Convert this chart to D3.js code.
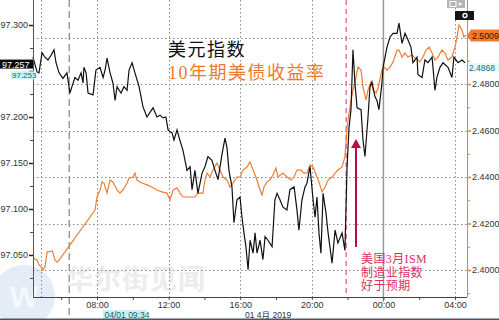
<!DOCTYPE html>
<html><head><meta charset="utf-8">
<script src="https://cdn.jsdelivr.net/npm/d3@7"></script>
<style>
html,body{margin:0;padding:0;background:#fff;}
svg{display:block;}
</style></head>
<body>
<svg id="chart" width="499" height="320"></svg>
<script>
// ---- data (hours since 2019-04-01 00:00 Beijing time) ----
const dxyHours = [4.42,4.65,4.76,4.93,5.09,5.26,5.43,5.60,5.71,5.88,6.10,6.32,6.49,6.60,6.77,6.94,7.11,7.22,7.27,7.39,7.50,7.78,7.94,8.17,8.34,8.45,8.56,8.73,8.89,9.01,9.12,9.34,9.51,9.68,9.79,9.96,10.12,10.35,10.57,10.79,10.96,11.13,11.35,11.52,11.69,11.85,11.97,12.08,12.19,12.30,12.47,12.58,12.80,13.03,13.20,13.31,13.47,13.64,13.87,14.03,14.20,14.42,14.59,14.76,14.98,15.15,15.26,15.37,15.54,15.65,15.82,15.99,16.10,16.21,16.32,16.44,16.55,16.72,16.83,16.94,17.11,17.27,17.39,17.55,17.78,17.94,18.06,18.22,18.39,18.61,18.78,19.01,19.17,19.28,19.45,19.62,19.73,19.90,20.07,20.18,20.29,20.40,20.51,20.63,20.79,20.91,21.13,21.30,21.46,21.69,21.85,21.97,22.08,22.19,22.30,22.41,22.53,22.75,22.86,22.97,23.14,23.25,23.36,23.53,23.64,23.75,23.92,23.98,24.20,24.37,24.54,24.76,24.87,25.04,25.21,25.37,25.54,25.65,25.88,25.93,26.16,26.32,26.49,26.72,26.88,26.99,27.16,27.33,27.61,27.83,27.94,28.17,28.39,28.56];
const dxyValues = [97.265,97.249,97.248,97.270,97.265,97.262,97.267,97.273,97.259,97.248,97.242,97.248,97.226,97.233,97.243,97.240,97.248,97.237,97.254,97.248,97.226,97.224,97.251,97.254,97.243,97.251,97.264,97.248,97.237,97.218,97.233,97.226,97.233,97.229,97.251,97.259,97.248,97.233,97.211,97.200,97.205,97.210,97.200,97.202,97.199,97.200,97.186,97.184,97.183,97.175,97.186,97.178,97.164,97.142,97.146,97.121,97.142,97.117,97.139,97.146,97.157,97.153,97.142,97.132,97.159,97.177,97.167,97.142,97.124,97.085,97.110,97.113,97.091,97.074,97.059,97.034,97.066,97.052,97.074,97.052,97.066,97.045,97.070,97.066,97.059,97.110,97.117,97.110,97.102,97.099,97.121,97.124,97.099,97.077,97.110,97.124,97.128,97.146,97.110,97.091,97.113,97.074,97.052,97.117,97.096,97.074,97.041,97.077,97.063,97.074,97.055,97.146,97.189,97.208,97.273,97.237,97.210,97.208,97.175,97.157,97.200,97.233,97.238,97.222,97.218,97.208,97.237,97.254,97.276,97.287,97.291,97.291,97.302,97.280,97.291,97.284,97.276,97.259,97.265,97.246,97.243,97.262,97.259,97.265,97.229,97.243,97.254,97.259,97.254,97.243,97.265,97.259,97.262,97.259];

const yieldHours = [4.42,4.65,4.76,4.93,4.98,5.09,5.21,5.49,5.54,5.65,5.77,5.88,7.89,8.00,8.17,8.28,8.39,8.56,8.73,8.89,9.12,9.28,9.45,9.68,9.79,10.01,10.12,10.23,10.51,10.79,11.07,11.35,11.63,11.91,12.08,12.25,12.47,12.64,12.80,13.20,13.47,13.64,13.92,14.03,14.15,14.31,14.48,14.70,14.87,15.04,15.26,15.43,15.60,15.82,15.99,16.16,16.38,16.55,16.72,16.94,17.05,17.22,17.33,17.50,17.66,17.83,18.00,18.11,18.39,18.61,18.84,19.01,19.17,19.40,19.56,19.73,19.90,20.07,20.29,20.40,20.57,20.74,20.91,21.13,21.30,21.46,21.69,21.85,21.97,22.13,22.30,22.41,22.58,22.75,22.86,23.03,23.14,23.31,23.42,23.59,23.70,23.92,24.03,24.20,24.37,24.54,24.76,24.87,25.04,25.21,25.37,25.60,25.77,25.93,26.04,26.21,26.38,26.55,26.72,26.88,27.05,27.27,27.44,27.61,27.83,28.00,28.11,28.22,28.39,28.50,28.62];
const yieldValues = [2.4052,2.4043,2.4022,2.4009,2.4000,2.4013,2.4077,2.4082,2.4073,2.4043,2.4034,2.4043,2.4258,2.4314,2.4344,2.4379,2.4374,2.4331,2.4387,2.4379,2.4344,2.4331,2.4344,2.4374,2.4396,2.4400,2.4417,2.4387,2.4374,2.4366,2.4357,2.4344,2.4336,2.4331,2.4301,2.4344,2.4353,2.4331,2.4314,2.4314,2.4314,2.4331,2.4331,2.4387,2.4417,2.4400,2.4430,2.4460,2.4430,2.4400,2.4387,2.4357,2.4374,2.4400,2.4400,2.4430,2.4443,2.4465,2.4430,2.4387,2.4357,2.4323,2.4357,2.4379,2.4387,2.4409,2.4439,2.4400,2.4417,2.4400,2.4387,2.4400,2.4430,2.4430,2.4417,2.4417,2.4452,2.4443,2.4400,2.4379,2.4336,2.4357,2.4387,2.4400,2.4417,2.4430,2.4443,2.4486,2.4615,2.4700,2.4774,2.4804,2.4873,2.4860,2.4787,2.4731,2.4774,2.4809,2.4774,2.4761,2.4783,2.4860,2.4873,2.4860,2.4873,2.4895,2.4946,2.4946,2.4916,2.4933,2.4916,2.4925,2.4912,2.4903,2.4895,2.4916,2.4946,2.4959,2.4933,2.4903,2.4916,2.4946,2.4933,2.4903,2.4916,2.4959,2.5002,2.5054,2.5032,2.5002,2.5011];

const xTickHours = [8,12,16,20,24,28];
const xTickLabels = ["08:00","12:00","16:00","20:00","00:00","04:00"];
const xMinorHours = [6,10,14,18,22,26];
const leftTicks = [97.05,97.10,97.15,97.20,97.25,97.30];
const leftLabelled = [97.05,97.10,97.15,97.20,97.30];   // 97.250 is hidden behind the last-value box
const leftMinor = [97.025,97.075,97.125,97.175,97.225,97.275];
const rightTicks = [2.40,2.42,2.44,2.46,2.48,2.50];
const rightLabelled = [2.40,2.42,2.44,2.46,2.48];        // 2.5000 is hidden behind the last-value box
const rightMinor = [2.39,2.41,2.43,2.45,2.47,2.49,2.51];
const vGridHours = [4.88,8,12,16,20,28];
const sessionLineHour = 6.45;
const dayLineHour = 24;
const releaseHour = 21.92;
const titleDxy = "美元指数";
const titleYield = "10年期美债收益率";
const noteLines = ["美国3月ISM","制造业指数","好于预期"];
const lastDxyLabels = ["97.257","97.253"];
const lastYieldLabels = ["2.5009","2.4868"];
const cursorLabel = "04/01 09:34";
const dateLabel = "01 4月 2019";
const watermark = "华尔街见闻";

// ---- chart ----
const svg = d3.select("#chart");
const L = 33, R = 467, T = 0, B = 297;
const x = d3.scaleLinear().domain([4.4246, 28.670]).range([L, R]);
const yL = d3.scaleLinear().domain([97.0043, 97.3272]).range([B, T]);
const yR = d3.scaleLinear().domain([2.38839, 2.51613]).range([B, T]);
const font = "'Liberation Sans', Arial, sans-serif";
const cjk = "'Noto Sans CJK SC', 'Noto Sans', sans-serif";
const sansCjk = "'Liberation Sans', 'Noto Sans CJK SC', sans-serif";
const serifCjk = "'Liberation Serif', 'Noto Sans CJK SC', serif";

// watermark
const wm = svg.append("g");
wm.append("circle").attr("cx", 24).attr("cy", 296).attr("r", 31).attr("fill", "#e3ecf7");
wm.append("text").attr("x", 24).attr("y", 307).attr("text-anchor","middle")
  .attr("font-family", font).attr("font-size", 30).attr("font-weight","bold")
  .attr("fill", "#f5f9fd").text("W");
wm.append("text").attr("x", 66).attr("y", 289).attr("font-family", cjk)
  .attr("font-size", 27).attr("font-weight","bold").attr("fill", "#ececec")
  .attr("letter-spacing", 1).text(watermark);

// horizontal grid (right axis)
svg.append("g").selectAll("line").data(rightTicks).join("line")
  .attr("x1", L).attr("x2", R).attr("y1", d => Math.round(yR(d))+0.5).attr("y2", d => Math.round(yR(d))+0.5)
  .attr("stroke", "#8a8a8a").attr("stroke-width", 1).attr("stroke-dasharray", "1.5,2.5");
// vertical grid
svg.append("g").selectAll("line").data(vGridHours).join("line")
  .attr("x1", d => Math.round(x(d))+0.5).attr("x2", d => Math.round(x(d))+0.5).attr("y1", T).attr("y2", B)
  .attr("stroke", "#8a8a8a").attr("stroke-width", 1).attr("stroke-dasharray", "1.5,2.5");
// session dashed line
svg.append("line").attr("x1", x(sessionLineHour)).attr("x2", x(sessionLineHour)).attr("y1", T).attr("y2", 320)
  .attr("stroke", "#8c8c8c").attr("stroke-width", 1.3).attr("stroke-dasharray", "7,4");
// day boundary
svg.append("line").attr("x1", x(dayLineHour)).attr("x2", x(dayLineHour)).attr("y1", T).attr("y2", B+5)
  .attr("stroke", "#9a9a9a").attr("stroke-width", 1.5);
// release pink dashed
svg.append("line").attr("x1", x(releaseHour)).attr("x2", x(releaseHour)).attr("y1", T).attr("y2", B)
  .attr("stroke", "#e0608c").attr("stroke-width", 1.3).attr("stroke-dasharray", "5,4");

// series
const yieldLine = d3.line().x(d => x(d[0])).y(d => yR(d[1]));
svg.append("path").datum(d3.zip(yieldHours, yieldValues)).attr("d", yieldLine)
  .attr("fill", "none").attr("stroke", "#ef7d32").attr("stroke-width", 1.2);
const dxyLine = d3.line().x(d => x(d[0])).y(d => yL(d[1]));
svg.append("path").datum(d3.zip(dxyHours, dxyValues)).attr("d", dxyLine)
  .attr("fill", "none").attr("stroke", "#111").attr("stroke-width", 1.2);

// left axis
const gL = svg.append("g").attr("transform", `translate(${L},0)`);
gL.call(d3.axisLeft(yL).tickValues(leftTicks).tickSize(4)
  .tickFormat(d => leftLabelled.includes(d) ? d3.format(".3f")(d) : ""));
gL.select(".domain").remove();
gL.selectAll(".tick line").attr("stroke", "#222").attr("stroke-width", 1.5);
gL.selectAll(".tick text").attr("font-family", font).attr("font-size", 9).attr("fill", "#333").attr("x", -5);
const gLm = svg.append("g").attr("transform", `translate(${L},0)`);
gLm.call(d3.axisLeft(yL).tickValues(leftMinor).tickSize(3).tickFormat(""));
gLm.select(".domain").remove();
gLm.selectAll(".tick line").attr("stroke", "#444");
svg.append("line").attr("x1", L+0.5).attr("x2", L+0.5).attr("y1", T).attr("y2", B).attr("stroke", "#555");

// right axis
const gR = svg.append("g").attr("transform", `translate(${R},0)`);
gR.call(d3.axisRight(yR).tickValues(rightTicks).tickSize(4)
  .tickFormat(d => rightLabelled.includes(d) ? d3.format(".4f")(d) : ""));
gR.select(".domain").remove();
gR.selectAll(".tick line").attr("stroke", "#ef7d32").attr("stroke-width", 1.5);
gR.selectAll(".tick text").attr("font-family", font).attr("font-size", 9).attr("fill", "#333").attr("x", 5);
const gRm = svg.append("g").attr("transform", `translate(${R},0)`);
gRm.call(d3.axisRight(yR).tickValues(rightMinor).tickSize(3).tickFormat(""));
gRm.select(".domain").remove();
gRm.selectAll(".tick line").attr("stroke", "#ef7d32");
svg.append("line").attr("x1", R+0.5).attr("x2", R+0.5).attr("y1", T).attr("y2", B).attr("stroke", "#ef7d32");

// bottom axis
const gB = svg.append("g").attr("transform", `translate(0,${B})`);
gB.call(d3.axisBottom(x).tickValues(xTickHours).tickSize(3).tickFormat((d,i) => xTickLabels[i]));
gB.select(".domain").remove();
gB.selectAll(".tick line").attr("stroke", "#444");
gB.selectAll(".tick text").attr("font-family", font).attr("font-size", 9).attr("fill", "#333").attr("y", 4.5);
const gBm = svg.append("g").attr("transform", `translate(0,${B})`);
gBm.call(d3.axisBottom(x).tickValues(xMinorHours).tickSize(3).tickFormat(""));
gBm.select(".domain").remove();
gBm.selectAll(".tick line").attr("stroke", "#444");
svg.append("line").attr("x1", L).attr("x2", R).attr("y1", B+0.5).attr("y2", B+0.5).attr("stroke", "#444");

// cursor time label & date
const cl = svg.append("g");
cl.append("rect").attr("x", 103).attr("y", 310).attr("width", 43).attr("height", 9).attr("fill", "#c9f3f3");
cl.append("text").attr("x", 104.5).attr("y", 317.5).attr("font-family", font).attr("font-size", 8.5)
  .attr("fill", "#1a5f6e").text(cursorLabel);
svg.append("text").attr("x", 245).attr("y", 318).attr("font-family", sansCjk).attr("font-size", 8.5)
  .attr("fill", "#333").text(dateLabel);
svg.append("rect").attr("x", 0).attr("y", 318.5).attr("width", 499).attr("height", 1.5).attr("fill", "#4c565e");

// last-value labels left
svg.append("rect").attr("x", 0).attr("y", yL(97.257)-5).attr("width", 33).attr("height", 9).attr("fill", "#0a0a0a");
svg.append("text").attr("x", 2).attr("y", yL(97.257)+3).attr("font-family", font).attr("font-size", 9)
  .attr("fill", "#fff").text(lastDxyLabels[0]);
svg.append("rect").attr("x", 11).attr("y", yL(97.253)+3).attr("width", 24).attr("height", 8).attr("fill", "#c9f3f3");
svg.append("text").attr("x", 12).attr("y", yL(97.253)+10).attr("font-family", font).attr("font-size", 8)
  .attr("fill", "#1a5f6e").text(lastDxyLabels[1]);

// last-value labels right
const yv = yR(2.5009);
svg.append("path").attr("d", `M${R},${yv} L${R+4},${yv-6} L499,${yv-6} L499,${yv+6} L${R+4},${yv+6} Z`).attr("fill", "#f07a2a");
svg.append("text").attr("x", R+5).attr("y", yv+3.2).attr("font-family", font).attr("font-size", 8.8)
  .attr("fill", "#3a1800").text(lastYieldLabels[0]);
const yc = yR(2.4868);
svg.append("rect").attr("x", R+1).attr("y", yc-5).attr("width", 31).attr("height", 9).attr("fill", "#e6fbfb");
svg.append("text").attr("x", R+2).attr("y", yc+3).attr("font-family", font).attr("font-size", 8.5)
  .attr("fill", "#1a6a7a").text(lastYieldLabels[1]);

// top-right widgets
svg.append("rect").attr("x", 447).attr("y", 0).attr("width", 18).attr("height", 8).attr("fill", "#b5b5b5");
svg.append("rect").attr("x", 450).attr("y", 1.5).attr("width", 6).attr("height", 5).attr("fill", "none").attr("stroke", "#fff");
svg.append("path").attr("d", "M458,3 L462,3 L460,6 Z").attr("fill", "#fff");
svg.append("rect").attr("x", 455).attr("y", 11).attr("width", 19).attr("height", 9).attr("fill", "#151515");
svg.append("circle").attr("cx", 465).attr("cy", 15.5).attr("r", 2).attr("fill", "none").attr("stroke", "#fff").attr("stroke-width", 1.3);

// titles
svg.append("text").attr("x", 168).attr("y", 56).attr("font-family", sansCjk).attr("font-size", 18)
  .attr("letter-spacing", 1.5).attr("fill", "#111").text(titleDxy);
svg.append("text").attr("x", 168).attr("y", 79).attr("font-family", serifCjk).attr("font-size", 18)
  .attr("letter-spacing", 1.5).attr("fill", "#ee7a2a").text(titleYield);

// annotation arrow
const ax = 356;
svg.append("line").attr("x1", ax).attr("x2", ax).attr("y1", 247).attr("y2", 146)
  .attr("stroke", "#b3123e").attr("stroke-width", 2);
svg.append("path").attr("d", `M${ax},139 L${ax-5},148 L${ax+5},148 Z`).attr("fill", "#b3123e");
svg.selectAll(".note").data(noteLines).join("text").attr("class","note")
  .attr("x", 361).attr("y", (d,i) => 263 + i*13.5).attr("font-family", serifCjk).attr("font-size", 12)
  .attr("letter-spacing", 0.4).attr("fill", "#dd2f5c").text(d => d);
</script>
</body></html>
